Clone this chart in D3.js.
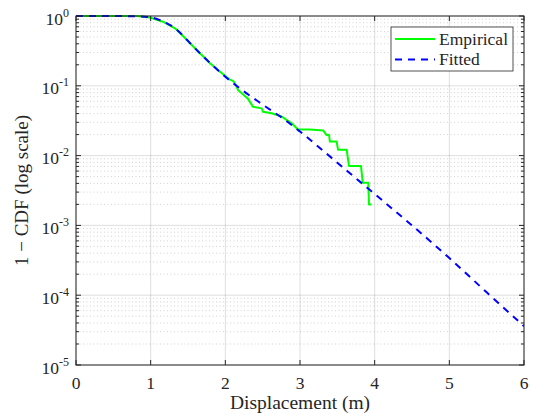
<!DOCTYPE html>
<html>
<head>
<meta charset="utf-8">
<script src="https://cdn.jsdelivr.net/npm/d3@7"></script>
<style>
  html, body { margin: 0; padding: 0; background: #fff; }
  svg { display: block; }
</style>
</head>
<body>
<svg id="chart" width="533" height="414"></svg>
<script>
// Empirical survival function (1 - CDF) of displacement
const empiricalX = [0, 0.82, 0.99, 1.165, 1.326, 1.42, 1.527, 1.66, 1.795, 1.93, 2.05, 2.107, 2.14, 2.17,
  2.30, 2.37, 2.487, 2.504, 2.62, 2.755, 2.889, 2.956, 2.97, 3.13, 3.31, 3.357, 3.39, 3.40, 3.49, 3.51,
  3.625, 3.656, 3.817, 3.84, 3.915, 3.924, 3.957];
const empiricalY = [1, 1, 0.952, 0.829, 0.667, 0.534, 0.407, 0.292, 0.21, 0.159, 0.125, 0.117, 0.103, 0.087,
  0.066, 0.05, 0.0475, 0.0426, 0.0404, 0.0363, 0.029, 0.0246, 0.0237, 0.0237, 0.0229, 0.0197, 0.0197, 0.0159,
  0.0159, 0.0121, 0.0121, 0.0071, 0.0071, 0.0041, 0.0041, 0.002, 0.002];

// Fitted distribution, 1 - CDF
const fittedX = [0, 0.5, 0.8, 1.0, 1.17, 1.33, 1.5, 1.66, 1.8, 2.0, 2.2, 2.5, 2.8, 3.0, 3.5, 4.0, 4.5, 5.0, 5.5, 6.0];
const fittedY = [1, 0.9995, 0.99, 0.955, 0.83, 0.665, 0.44, 0.292, 0.21, 0.135, 0.091, 0.0537, 0.0324, 0.0221,
  0.0079, 0.00282, 0.001, 0.00034, 0.00011, 0.000036];

const xTicks = [0, 1, 2, 3, 4, 5, 6];
const yDecades = [0, -1, -2, -3, -4, -5];
const seriesNames = ["Empirical", "Fitted"];

const FONT = "Liberation Serif";
const TEXT_COLOR = "#262626";

const svg = d3.select("#chart");
const L = 76, R = 524, T = 16, B = 365;

const x = d3.scaleLinear().domain([0, 6]).range([L, R]);
const y = d3.scaleLog().domain([1e-5, 1]).range([B, T]);

// minor values (2..9 x each decade)
const minorVals = [];
yDecades.slice(0, -1).forEach(e => {
  for (let m = 2; m <= 9; m++) minorVals.push(m * Math.pow(10, e - 1));
});

// grid
const grid = svg.append("g");
grid.selectAll("line.minor").data(minorVals).enter().append("line")
  .attr("x1", L).attr("x2", R)
  .attr("y1", d => y(d)).attr("y2", d => y(d))
  .attr("stroke", "#262626").attr("stroke-opacity", 0.3)
  .attr("stroke-width", 0.7).attr("stroke-dasharray", "1,2.5");
grid.selectAll("line.vmaj").data(xTicks).enter().append("line")
  .attr("x1", d => x(d)).attr("x2", d => x(d))
  .attr("y1", T).attr("y2", B)
  .attr("stroke", "#262626").attr("stroke-opacity", 0.15);
grid.selectAll("line.hmaj").data(yDecades).enter().append("line")
  .attr("x1", L).attr("x2", R)
  .attr("y1", d => y(Math.pow(10, d))).attr("y2", d => y(Math.pow(10, d)))
  .attr("stroke", "#262626").attr("stroke-opacity", 0.15);

// curves
svg.append("clipPath").attr("id", "clip").append("rect")
  .attr("x", L).attr("y", T - 2).attr("width", R - L).attr("height", B - T + 2);

const plot = svg.append("g").attr("clip-path", "url(#clip)");

const empData = empiricalX.map((v, i) => [v, empiricalY[i]]);
const fitData = fittedX.map((v, i) => [v, fittedY[i]]);

plot.append("path").datum(empData)
  .attr("fill", "none").attr("stroke", "#00ff00").attr("stroke-width", 2)
  .attr("stroke-linejoin", "round")
  .attr("d", d3.line().x(d => x(d[0])).y(d => y(d[1])));

plot.append("path").datum(fitData)
  .attr("fill", "none").attr("stroke", "#0000ff").attr("stroke-width", 2)
  .attr("stroke-dasharray", "7,6")
  .attr("d", d3.line().curve(d3.curveMonotoneX).x(d => x(d[0])).y(d => y(d[1])));

// axes box
const axisColor = "#262626";
svg.append("rect").attr("x", L).attr("y", T).attr("width", R - L).attr("height", B - T)
  .attr("fill", "none").attr("stroke", axisColor).attr("stroke-width", 1);

// x ticks (bottom and top, inward)
const tk = svg.append("g").attr("stroke", axisColor).attr("stroke-width", 1);
xTicks.forEach(t => {
  tk.append("line").attr("x1", x(t)).attr("x2", x(t)).attr("y1", B).attr("y2", B - 5);
  tk.append("line").attr("x1", x(t)).attr("x2", x(t)).attr("y1", T).attr("y2", T + 5);
});
// y ticks left and right
yDecades.forEach(e => {
  const yy = y(Math.pow(10, e));
  tk.append("line").attr("x1", L).attr("x2", L + 5).attr("y1", yy).attr("y2", yy);
  tk.append("line").attr("x1", R).attr("x2", R - 5).attr("y1", yy).attr("y2", yy);
});
minorVals.forEach(v => {
  const yy = y(v);
  tk.append("line").attr("x1", L).attr("x2", L + 3).attr("y1", yy).attr("y2", yy);
  tk.append("line").attr("x1", R).attr("x2", R - 3).attr("y1", yy).attr("y2", yy);
});

// x tick labels
svg.append("g").selectAll("text").data(xTicks).enter().append("text")
  .attr("x", d => x(d)).attr("y", 389)
  .attr("text-anchor", "middle").attr("font-size", 17.5)
  .attr("font-family", FONT).attr("fill", TEXT_COLOR)
  .text(d => d);

// y tick labels, 10^e
const yl = svg.append("g").selectAll("text").data(yDecades).enter().append("text")
  .attr("x", 69).attr("y", d => y(Math.pow(10, d)) + 8.5)
  .attr("text-anchor", "end").attr("font-size", 17.5)
  .attr("font-family", FONT).attr("fill", TEXT_COLOR);
yl.append("tspan").text("10");
yl.append("tspan").attr("font-size", 12).attr("dy", -8).text(d => (d === 0 ? "0" : "-" + (-d)));

// axis labels
svg.append("text").attr("x", (L + R) / 2).attr("y", 408.5)
  .attr("text-anchor", "middle").attr("font-size", 19.5)
  .attr("font-family", FONT).attr("fill", TEXT_COLOR)
  .text("Displacement (m)");
svg.append("text")
  .attr("transform", "translate(27.5," + ((T + B) / 2) + ") rotate(-90)")
  .attr("text-anchor", "middle").attr("font-size", 19)
  .attr("font-family", FONT).attr("fill", TEXT_COLOR)
  .text("1 \u2212 CDF (log scale)");

// legend
const lg = svg.append("g");
lg.append("rect").attr("x", 391).attr("y", 27).attr("width", 122).attr("height", 44)
  .attr("fill", "#fff").attr("stroke", axisColor).attr("stroke-width", 0.8);
const legendStyles = [
  { color: "#00ff00", dash: null, yy: 39 },
  { color: "#0000ff", dash: "7,6", yy: 59.5 }
];
seriesNames.forEach((name, i) => {
  const s = legendStyles[i];
  const ln = lg.append("line").attr("x1", 395).attr("x2", 435)
    .attr("y1", s.yy).attr("y2", s.yy)
    .attr("stroke", s.color).attr("stroke-width", 2);
  if (s.dash) ln.attr("stroke-dasharray", s.dash);
  lg.append("text").attr("x", 439).attr("y", s.yy + 5.5)
    .attr("font-size", 17.5).attr("font-family", FONT).attr("fill", TEXT_COLOR)
    .text(name);
});
</script>
</body>
</html>
